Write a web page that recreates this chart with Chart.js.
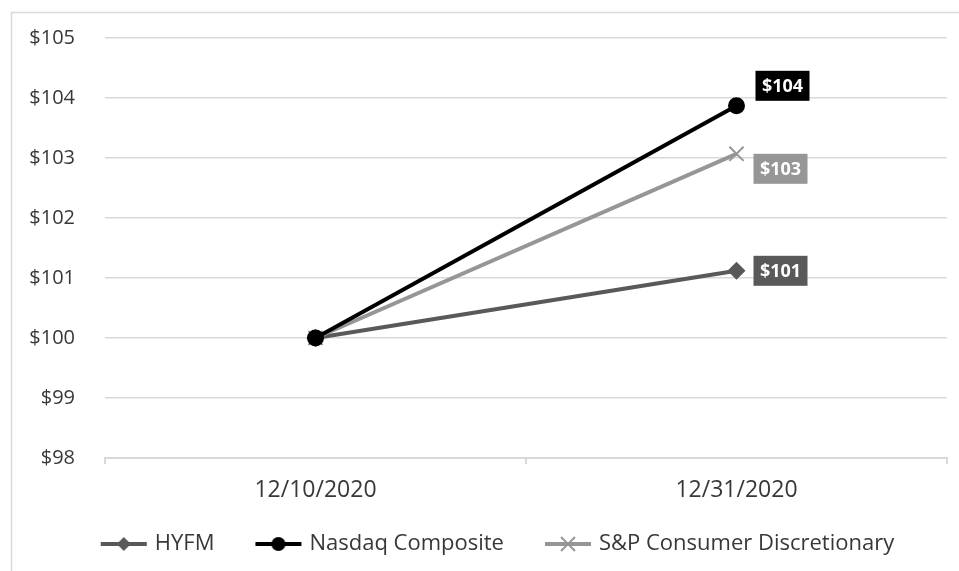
<!DOCTYPE html>
<html>
<head>
<meta charset="utf-8">
<script src="https://cdn.jsdelivr.net/npm/chart.js@4.4.1/dist/chart.umd.min.js"></script>
<style>
  html, body { margin: 0; padding: 0; background: #ffffff; }
  #wrap { width: 959px; height: 571px; }
</style>
</head>
<body>
<div id="wrap"><canvas id="c" width="959" height="571"></canvas></div>
<script>
// Growth of $100 invested on 12/10/2020
const dates = ['12/10/2020', '12/31/2020'];
const hyfm = [100, 101.12];
const nasdaq = [100, 103.87];
const spDiscretionary = [100, 103.07];
const yTicks = [98, 99, 100, 101, 102, 103, 104, 105];

const FONT = '"Open Sans", "Liberation Sans", sans-serif';
const GRID = '#d9d9d9';
const TEXT = '#383838';

// Line-with-marker swatches for the legend (blank margin on the left)
function swatch(color, style) {
  const cv = document.createElement('canvas');
  cv.width = 60; cv.height = 20;
  const g = cv.getContext('2d');
  const m = 36;
  g.strokeStyle = color; g.fillStyle = color;
  g.lineWidth = 4;
  g.beginPath(); g.moveTo(13, 10); g.lineTo(59, 10); g.stroke();
  if (style === 'circle') {
    g.beginPath(); g.arc(m, 10, 7, 0, Math.PI * 2); g.fill();
  } else if (style === 'diamond') {
    g.beginPath(); g.moveTo(m, 3); g.lineTo(m + 7, 10); g.lineTo(m, 17); g.lineTo(m - 7, 10); g.closePath(); g.fill();
  } else if (style === 'cross') {
    g.lineWidth = 2;
    g.beginPath(); g.moveTo(m - 7, 3); g.lineTo(m + 7, 17); g.moveTo(m + 7, 3); g.lineTo(m - 7, 17); g.stroke();
  }
  return cv;
}

// Value boxes next to the last point of each series
const valueBoxes = {
  id: 'valueBoxes',
  afterDatasetsDraw(chart) {
    const ctx = chart.ctx;
    chart.data.datasets.forEach((ds, i) => {
      const meta = chart.getDatasetMeta(i);
      const pt = meta.data[meta.data.length - 1];
      const v = ds.data[ds.data.length - 1];
      const txt = '$' + Math.round(v);
      const cx = pt.x + ds.boxOffset[0];
      const cy = pt.y + ds.boxOffset[1];
      const w = 54, h = 30;
      ctx.save();
      ctx.fillStyle = ds.borderColor;
      ctx.fillRect(cx - w / 2, cy - h / 2, w, h);
      ctx.fillStyle = '#ffffff';
      ctx.font = 'bold 18px ' + FONT;
      ctx.textAlign = 'center';
      ctx.textBaseline = 'middle';
      ctx.fillText(txt, cx, cy + 1);
      ctx.restore();
    });
  }
};

// Thin outer frame
const frame = {
  id: 'frame',
  beforeDraw(chart) {
    const ctx = chart.ctx;
    ctx.save();
    ctx.strokeStyle = GRID;
    ctx.lineWidth = 1.5;
    ctx.beginPath();
    ctx.moveTo(11.5, 571);
    ctx.lineTo(11.5, 12.5);
    ctx.lineTo(959, 12.5);
    ctx.stroke();
    ctx.restore();
  }
};

// Nudge the legend row so it sits centred under the whole frame
const legendShift = {
  id: 'legendShift',
  afterLayout(chart) {
    const lg = chart.legend;
    if (lg) { lg.left += 16; lg.right += 16; }
  }
};

new Chart(document.getElementById('c'), {
  type: 'line',
  data: {
    labels: dates,
    datasets: [
      {
        label: 'HYFM', data: hyfm,
        borderColor: '#595959', backgroundColor: '#595959',
        borderWidth: 4, pointStyle: 'rectRot', pointRadius: 9,
        pointBorderWidth: 0, order: 2, boxOffset: [44, 0],
        legendImage: swatch('#595959', 'diamond')
      },
      {
        label: 'Nasdaq Composite', data: nasdaq,
        borderColor: '#000000', backgroundColor: '#000000',
        borderWidth: 4, pointStyle: 'circle', pointRadius: 8.5,
        pointBorderWidth: 0, order: 0, boxOffset: [46, -20],
        legendImage: swatch('#000000', 'circle')
      },
      {
        label: 'S&P Consumer Discretionary', data: spDiscretionary,
        borderColor: '#969696', backgroundColor: '#969696',
        borderWidth: 4, pointStyle: 'crossRot', pointRadius: 10,
        pointBorderWidth: 2, order: 1, boxOffset: [44, 15],
        legendImage: swatch('#969696', 'cross')
      }
    ]
  },
  options: {
    responsive: false,
    animation: false,
    events: [],
    layout: { padding: { left: 0, right: 5, top: 38, bottom: 6 } },
    scales: {
      x: {
        offset: true,
        grid: { offset: true, drawOnChartArea: false, drawTicks: true, tickLength: 6, color: GRID, lineWidth: 2 },
        border: { color: GRID, width: 2 },
        ticks: { padding: 13, color: TEXT, font: { family: FONT, size: 23 } },
        afterFit(s) { s.height = 43; }
      },
      y: {
        min: yTicks[0], max: yTicks[yTicks.length - 1],
        afterBuildTicks(s) { s.ticks = yTicks.map(v => ({ value: v })); },
        grid: { color: GRID, lineWidth: 1.5, drawTicks: true, tickLength: 30, tickColor: 'rgba(0,0,0,0)' },
        border: { display: false },
        ticks: { padding: 0, color: TEXT, font: { family: FONT, size: 20 }, callback: v => '$' + v },
        afterFit(s) { s.width = 105; }
      }
    },
    plugins: {
      tooltip: { enabled: false },
      legend: {
        position: 'bottom',
        labels: {
          color: TEXT,
          font: { family: FONT, size: 22 },
          usePointStyle: true,
          pointStyleWidth: 52,
          padding: 32,
          generateLabels(chart) {
            return chart.data.datasets.map((ds, i) => ({
              text: ds.label, pointStyle: ds.legendImage, datasetIndex: i,
              fontColor: TEXT, lineWidth: 0, hidden: false
            }));
          }
        }
      }
    }
  },
  plugins: [frame, valueBoxes, legendShift]
});
</script>
</body>
</html>
